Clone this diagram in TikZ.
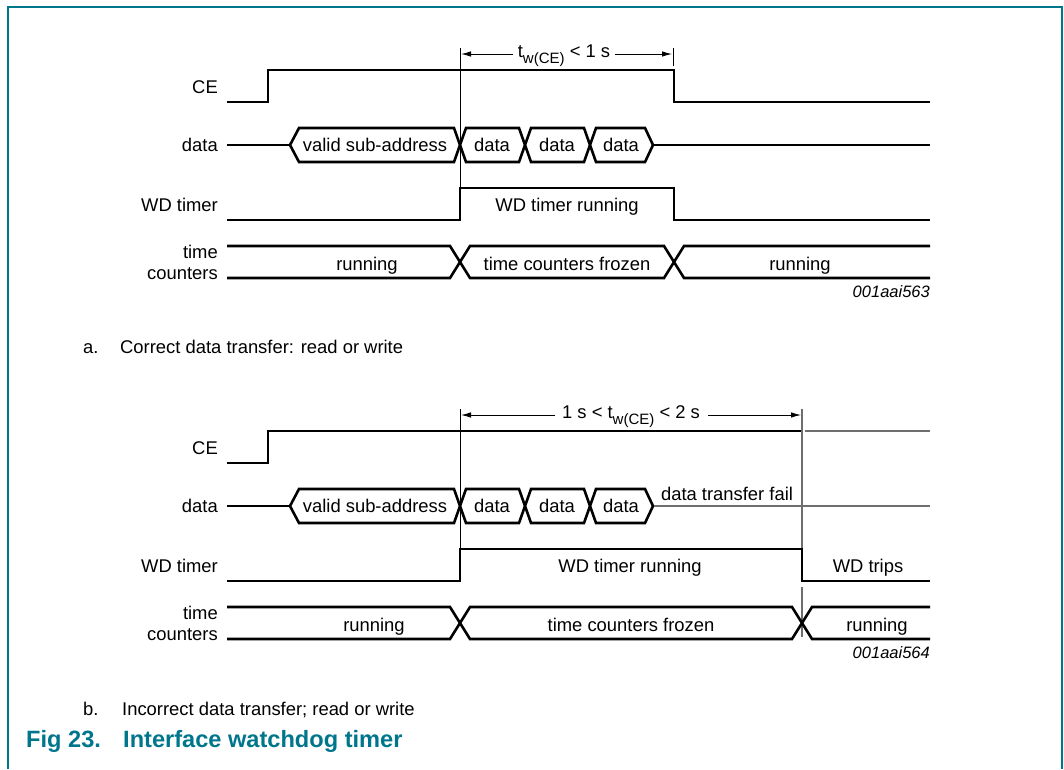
\documentclass[tikz,border=0pt]{standalone}
\usepackage{fontspec}
\setmainfont{Liberation Sans}
\usetikzlibrary{arrows.meta}
\definecolor{nxpteal}{RGB}{0,118,140}
\definecolor{lightline}{RGB}{110,110,110}
\newcommand{\tdhex}[5]{%
  \draw[sig] (#1,#3) -- ({#1+#4},{#3-17}) -- ({#2-#5},{#3-17}) -- (#2,#3) -- ({#2-#5},{#3+17}) -- ({#1+#4},{#3+17}) -- cycle;}
\newcommand{\twsub}{t\raisebox{-6pt}{\fontsize{15}{16}\selectfont w(CE)}}
\begin{document}
\begin{tikzpicture}[x=1pt,y=-1pt,
  sig/.style={line width=2.6pt, line join=miter},
  fine/.style={line width=0.9pt, draw=black},
  grey/.style={line width=1.1pt, draw=lightline},
  lbl/.style={inner sep=0pt, anchor=base, font=\fontsize{18.4}{21}\selectfont},
  rlbl/.style={lbl, anchor=base east},
  code/.style={inner sep=0pt, anchor=base east, font=\fontsize{16.5}{19}\selectfont\itshape},
  capt/.style={inner sep=0pt, anchor=base west, font=\fontsize{18.4}{21}\selectfont},
  figt/.style={inner sep=0pt, anchor=base west, text=nxpteal, font=\fontsize{23.6}{27}\selectfont\bfseries},
  arr/.style={fine, -{Latex[length=10pt,width=5.5pt]}}]
\useasboundingbox (0,0) rectangle (1064,769);
% frame
\draw[nxpteal, line width=2pt] (8,769) -- (8,7) -- (1062,7) -- (1062,769);

%%%%%%%%%%%%%%%% diagram a
\node[rlbl] (ceA) at (218,93) {CE};
\node[rlbl] (dataA) at (218,151) {data};
\node[rlbl] (wdA) at (218,211) {WD timer};
\node[rlbl] (timeA) at (218,258) {time};
\node[rlbl] (cntA) at (218,279) {counters};

\draw[sig] (227,102) -- (268,102) -- (268,70) -- (674,70) -- (674,102) -- (930,102);
% marker
\draw[fine] (460,48) -- (460,188);
\draw[fine] (673,48) -- (673,66);
\node[lbl] (twA) at (564,57) {\twsub{} < 1 s};
\coordinate (aL) at (461,54);
\coordinate (aR) at (672,54);
\draw[arr] ([xshift=-5pt]twA.west |- aL) -- (aL);
\draw[arr] ([xshift=5pt]twA.east |- aR) -- (aR);
% data
\draw[sig] (227,145) -- (290,145);
\tdhex{290}{460}{145}{9}{6}
\tdhex{460}{525}{145}{6}{6}
\tdhex{525}{590}{145}{6}{6}
\tdhex{590}{653}{145}{6}{8}
\draw[sig] (653,145) -- (930,145);
\node[lbl] (vsaA) at (375,151) {valid sub-address};
\node[lbl] (d1A) at (492,151) {data};
\node[lbl] (d2A) at (557,151) {data};
\node[lbl] (d3A) at (621,151) {data};
% WD timer
\draw[sig] (227,220) -- (460,220) -- (460,188) -- (674,188) -- (674,220) -- (930,220);
\node[lbl] (wdrA) at (567,211) {WD timer running};
% time counters
\draw[sig] (227,246) -- (450,246) -- (470,278) -- (664,278) -- (684,246) -- (930,246);
\draw[sig] (227,278) -- (450,278) -- (470,246) -- (664,246) -- (684,278) -- (930,278);
\node[lbl] (r1A) at (367,270) {running};
\node[lbl] (tcfA) at (567,270) {time counters frozen};
\node[lbl] (r2A) at (800,270) {running};
\node[code] (codeA) at (930,297) {001aai563};
\node[capt] (capA1) at (83,353) {a.};
\node[capt] (capA2) at (120,353) {Correct data transfer: read or write};

%%%%%%%%%%%%%%%% diagram b
\node[rlbl] (ceB) at (218,454) {CE};
\node[rlbl] (dataB) at (218,512) {data};
\node[rlbl] (wdB) at (218,572) {WD timer};
\node[rlbl] (timeB) at (218,619) {time};
\node[rlbl] (cntB) at (218,640) {counters};

\draw[sig] (227,463) -- (268,463) -- (268,431) -- (802,431);
\draw[grey] (805,431) -- (930,431);
% markers
\draw[fine] (460,409) -- (460,549);
\draw[grey] (802,409) -- (802,580);
\draw[grey] (802,587) -- (802,637);
\node[lbl] (twB) at (631,418) {1 s < \twsub{} < 2 s};
\coordinate (bL) at (461,415);
\coordinate (bR) at (801,415);
\draw[arr] ([xshift=-7pt]twB.west |- bL) -- (bL);
\draw[arr] ([xshift=8pt]twB.east |- bR) -- (bR);
% data
\draw[sig] (227,506) -- (290,506);
\tdhex{290}{460}{506}{9}{6}
\tdhex{460}{525}{506}{6}{6}
\tdhex{525}{590}{506}{6}{6}
\tdhex{590}{653}{506}{6}{8}
\draw[grey] (654,506) -- (930,506);
\node[lbl] (vsaB) at (375,512) {valid sub-address};
\node[lbl] (d1B) at (492,512) {data};
\node[lbl] (d2B) at (557,512) {data};
\node[lbl] (d3B) at (621,512) {data};
\node[lbl] (failB) at (727,500) {data transfer fail};
% WD timer
\draw[sig] (227,581) -- (460,581) -- (460,549) -- (802,549) -- (802,581) -- (930,581);
\node[lbl] (wdrB) at (630,572) {WD timer running};
\node[lbl] (wdtB) at (868,572) {WD trips};
% time counters
\draw[sig] (227,607) -- (450,607) -- (470,639) -- (792,639) -- (812,607) -- (930,607);
\draw[sig] (227,639) -- (450,639) -- (470,607) -- (792,607) -- (812,639) -- (930,639);
\node[lbl] (r1B) at (374,631) {running};
\node[lbl] (tcfB) at (631,631) {time counters frozen};
\node[lbl] (r2B) at (877,631) {running};
\node[code] (codeB) at (930,658) {001aai564};
\node[capt] (capB1) at (83,715) {b.};
\node[capt] (capB2) at (122,715) {Incorrect data transfer; read or write};

\node[figt] (fig1) at (26,747) {Fig 23.};
\node[figt] (fig2) at (123,747) {Interface watchdog timer};
\end{tikzpicture}
\end{document}
